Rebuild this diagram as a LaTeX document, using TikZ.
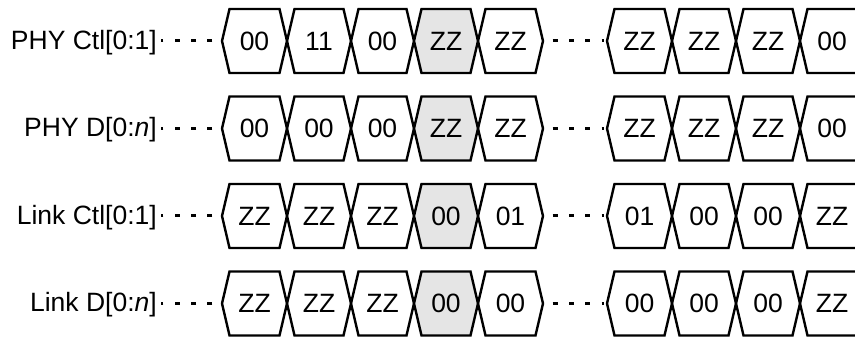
\documentclass[tikz,border=0pt]{standalone}
\usepackage{fontspec}
\setmainfont{Liberation Sans}
\usepackage{tikz}
\usetikzlibrary{calc}
\tikzset{
	cellline/.style={line width=2.4pt, line join=miter},
	cellgray/.style={cellline, fill=black!10},
	celltext/.style={inner sep=0pt, font=\fontsize{26.5}{32}\selectfont},
	siglabel/.style={inner sep=4pt, anchor=base east, font=\fontsize{26.5}{32}\selectfont},
	gapline/.style={line width=3pt, dash pattern=on 5pt off 11.3pt, dash phase=6.6pt},
}
\def\buscell[#1](#2:#3:#4)#5#6{%
	\coordinate (#5w) at (#2,#4);
	\coordinate (#5e) at (#3,#4);
	\draw[#1] (#5w) -- ({#2+7.5},{#4+32}) -- ({#3-7.5},{#4+32}) -- (#5e) -- ({#3-7.5},{#4-32}) -- ({#2+7.5},{#4-32}) -- cycle;
	\node[celltext] (#5) at ({(#2+#3)/2},#4) {#6};}

\begin{document}
\begin{tikzpicture}[x=1pt, y=1pt]
		%%%%% START %%%%%
		\useasboundingbox (0, 0) rectangle (855, 337);
		\clip (0, 0) rectangle (855, 337);
		
		% PHY Ctl[0:1]
		\node[siglabel] (pcl) at (161, 287.5) {PHY Ctl[0:1]};
		\buscell[cellline](222:287:296){pc1}{00}
		\buscell[cellline](287:351:296){pc2}{11}
		\buscell[cellline](351:414:296){pc3}{00}
		\buscell[cellgray](414:478:296){pc4}{ZZ}
		\buscell[cellline](478:543:296){pc5}{ZZ}
		\buscell[cellline](607:672:296){pc6}{ZZ}
		\buscell[cellline](672:736:296){pc7}{ZZ}
		\buscell[cellline](736:800:296){pc8}{ZZ}
		\buscell[cellline](800:864:296){pc9}{00}
		\draw[gapline] (pc1w) -- (pcl.east |- pc1w);
		\draw[gapline, shorten >=3.5pt] (pc5e) -- (pc6w);
		
		% PHY D[0:n]
		\node[siglabel] (pdl) at (161, 200) {PHY D[0:\textit{n}]};
		\buscell[cellline](222:287:208.5){pd1}{00}
		\buscell[cellline](287:351:208.5){pd2}{00}
		\buscell[cellline](351:414:208.5){pd3}{00}
		\buscell[cellgray](414:478:208.5){pd4}{ZZ}
		\buscell[cellline](478:543:208.5){pd5}{ZZ}
		\buscell[cellline](607:672:208.5){pd6}{ZZ}
		\buscell[cellline](672:736:208.5){pd7}{ZZ}
		\buscell[cellline](736:800:208.5){pd8}{ZZ}
		\buscell[cellline](800:864:208.5){pd9}{00}
		\draw[gapline] (pd1w) -- (pdl.east |- pd1w);
		\draw[gapline, shorten >=3.5pt] (pd5e) -- (pd6w);
		
		% Link Ctl[0:1]
		\node[siglabel] (lcl) at (161, 112.5) {Link Ctl[0:1]};
		\buscell[cellline](222:287:121){lc1}{ZZ}
		\buscell[cellline](287:351:121){lc2}{ZZ}
		\buscell[cellline](351:414:121){lc3}{ZZ}
		\buscell[cellgray](414:478:121){lc4}{00}
		\buscell[cellline](478:543:121){lc5}{01}
		\buscell[cellline](607:672:121){lc6}{01}
		\buscell[cellline](672:736:121){lc7}{00}
		\buscell[cellline](736:800:121){lc8}{00}
		\buscell[cellline](800:864:121){lc9}{ZZ}
		\draw[gapline] (lc1w) -- (lcl.east |- lc1w);
		\draw[gapline, shorten >=3.5pt] (lc5e) -- (lc6w);
		
		% Link D[0:n]
		\node[siglabel] (ldl) at (161, 25) {Link D[0:\textit{n}]};
		\buscell[cellline](222:287:33.5){ld1}{ZZ}
		\buscell[cellline](287:351:33.5){ld2}{ZZ}
		\buscell[cellline](351:414:33.5){ld3}{ZZ}
		\buscell[cellgray](414:478:33.5){ld4}{00}
		\buscell[cellline](478:543:33.5){ld5}{00}
		\buscell[cellline](607:672:33.5){ld6}{00}
		\buscell[cellline](672:736:33.5){ld7}{00}
		\buscell[cellline](736:800:33.5){ld8}{00}
		\buscell[cellline](800:864:33.5){ld9}{ZZ}
		\draw[gapline] (ld1w) -- (ldl.east |- ld1w);
		\draw[gapline, shorten >=3.5pt] (ld5e) -- (ld6w);
		
		%%%%% END %%%%%
	\end{tikzpicture}
\end{document}
